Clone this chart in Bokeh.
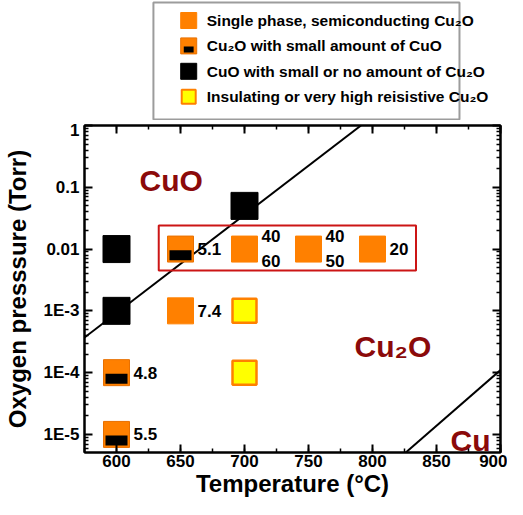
from bokeh.plotting import figure
from bokeh.models import (Range1d, FixedTicker, SingleIntervalTicker, LinearAxis, LogAxis)
from bokeh.layouts import column
from bokeh.core.properties import value
from bokeh.embed import file_html
from bokeh.resources import INLINE

FONT = "Liberation Sans"

# ---------------- data ----------------
single_T = [650, 700, 750, 800]          # single phase semiconducting Cu2O
single_P = [1e-3, 1e-2, 1e-2, 1e-2]
mixed_T = [600, 600, 650]                # Cu2O with small amount of CuO
mixed_P = [1e-4, 1e-5, 1e-2]
cuo_T = [600, 600, 700]                  # CuO with small or no Cu2O
cuo_P = [1e-2, 1e-3, 5e-2]
insul_T = [700, 700]                     # insulating Cu2O
insul_P = [1e-3, 1e-4]

label_T = [600, 600, 650, 650, 700, 750, 800]
label_P = [1e-4, 1e-5, 1e-2, 1e-3, 1e-2, 1e-2, 1e-2]
label_text = ["4.8", "5.5", "5.1", "7.4", "40\n60", "40\n50", "20"]

cuo_boundary_T = [575, 791]
cuo_boundary_P = [3.7e-4, 1.0]
cu_boundary_T = [826, 900]
cu_boundary_P = [5.1e-6, 1.1e-4]

box_T = [633, 834]
box_P = [0.0045, 0.024]

region_names = ["CuO", "Cu\u2082O", "Cu"]
region_T = [618, 786, 861]
region_P = [0.13, 2.65e-4, 8.0e-6]

x_ticks = [600, 650, 700, 750, 800, 850, 900]
y_ticks = [1e-5, 1e-4, 1e-3, 1e-2, 1e-1, 1]
y_tick_labels = ["1E-5", "1E-4", "1E-3", "0.01", "0.1", "1"]

legend_labels = [
    "Single phase, semiconducting Cu\u2082O",
    "Cu\u2082O with small amount of CuO",
    "CuO with small or no amount of Cu\u2082O",
    "Insulating or very high reisistive Cu\u2082O",
]

ORANGE = "#FF8000"
DARK_ORANGE = "#E87000"
YELLOW = "#FFFF00"
MAROON = "#8B0A0A"
BOXRED = "#CC1515"

# ---------------- legend figure ----------------
LW, LH = 507, 120
lg = figure(width=LW, height=LH, x_range=Range1d(0, LW), y_range=Range1d(LH, 0),
            x_axis_type=None, y_axis_type=None, output_backend="svg",
            toolbar_location=None, min_border=0, outline_line_color=None)
lg.xgrid.visible = False
lg.ygrid.visible = False
lg.quad(left=84, right=457, top=2, bottom=119, fill_color="white",
        line_color="#9C9C9C", line_width=2)
rows = [20 + i * 25.4 for i in range(4)]
icon_x = 127
lg.scatter([icon_x], [rows[0]], marker="square", size=16, fill_color=ORANGE, line_color=ORANGE)
lg.scatter([icon_x], [rows[1]], marker="square", size=16, fill_color=ORANGE, line_color=DARK_ORANGE, line_width=1)
lg.rect([icon_x], [rows[1] + 3.5], width=12, height=6, fill_color="black", line_color=None)
lg.scatter([icon_x], [rows[2]], marker="square", size=16, fill_color="black", line_color="black")
lg.scatter([icon_x], [rows[3]], marker="square", size=14, fill_color=YELLOW, line_color=ORANGE, line_width=2)
lg.text(x=[149] * 4, y=rows, text=legend_labels, text_font=value(FONT),
        text_font_style="bold", text_font_size="15.5px", text_baseline="middle",
        text_align="left", text_color="black")

# ---------------- main figure ----------------
p = figure(width=507, height=379, x_range=Range1d(575, 900), y_range=Range1d(5.1e-6, 1),
           y_axis_type="log", output_backend="svg", toolbar_location=None,
           min_border_left=82, min_border_right=7, min_border_top=5, min_border_bottom=47)
p.xgrid.visible = False
p.ygrid.visible = False
p.outline_line_color = "black"
p.outline_line_width = 2

minor_y = [m * 10.0 ** e for e in range(-6, 0) for m in range(2, 10)]
xt = SingleIntervalTicker(interval=50, num_minor_ticks=2)
yt = FixedTicker(ticks=y_ticks, minor_ticks=minor_y)

p.add_layout(LinearAxis(), "above")
p.add_layout(LogAxis(), "right")

for ax in p.xaxis:
    ax.ticker = xt
for ax in p.yaxis:
    ax.ticker = yt

for ax in p.xaxis + p.yaxis:
    ax.axis_line_width = 2
    ax.axis_line_color = "black"
    ax.major_tick_in = 8
    ax.major_tick_out = 0
    ax.minor_tick_in = 4
    ax.minor_tick_out = 0
    ax.major_tick_line_width = 2
    ax.minor_tick_line_width = 1.5
    ax.major_label_text_font = FONT
    ax.major_label_text_font_style = "bold"
    ax.major_label_text_font_size = "17px"
    ax.major_label_text_color = "black"
    ax.axis_label_text_font = FONT
    ax.axis_label_text_font_style = "bold"
    ax.axis_label_text_font_size = "24px"
    ax.axis_label_text_color = "black"

for ax in (p.above[0], p.right[0]):
    ax.major_label_text_font_size = "1px"
    ax.major_label_text_color = None
    ax.major_label_standoff = 0

p.below[0].axis_label = "Temperature (\u00b0C)"
p.below[0].major_label_standoff = 2
p.below[0].axis_label_standoff = 0
p.left[0].axis_label = "Oxygen presssure (Torr)"
p.left[0].major_label_standoff = 5
p.left[0].axis_label_standoff = 10
p.left[0].major_label_overrides = dict(zip(y_ticks, y_tick_labels))

# phase boundaries
p.line(cuo_boundary_T, cuo_boundary_P, line_color="black", line_width=2)
p.line(cu_boundary_T, cu_boundary_P, line_color="black", line_width=2)

# red frame
p.quad(left=box_T[0], right=box_T[1], bottom=box_P[0], top=box_P[1],
       fill_color=None, line_color=BOXRED, line_width=2)

# markers
p.scatter(single_T, single_P, marker="square", size=26, fill_color=ORANGE, line_color=ORANGE)
p.scatter(mixed_T, mixed_P, marker="square", size=26, fill_color=ORANGE,
          line_color=DARK_ORANGE, line_width=1)
bar_factor = 10 ** (-0.1)   # bar sits ~6 px below the marker centre
p.rect(mixed_T, [v * bar_factor for v in mixed_P], width=22, height=10,
       width_units="screen", height_units="screen", fill_color="black", line_color=None)
p.scatter(cuo_T, cuo_P, marker="square", size=27, fill_color="black", line_color="black")
p.scatter(insul_T, insul_P, marker="square", size=24, fill_color=YELLOW,
          line_color=ORANGE, line_width=2.5)

# value labels
p.text(x=label_T, y=label_P, text=label_text, x_offset=17, text_font=value(FONT),
       text_font_style="bold", text_font_size="17px", text_baseline="middle",
       text_align="left", text_color="black", text_line_height=1.3)

# region names
p.text(x=region_T, y=region_P, text=region_names, text_font=value(FONT),
       text_font_style="bold", text_font_size="30px", text_baseline="alphabetic",
       text_align="left", text_color=MAROON)

layout = column(lg, p, spacing=0)
open("out.html", "w").write(file_html(layout, INLINE))
